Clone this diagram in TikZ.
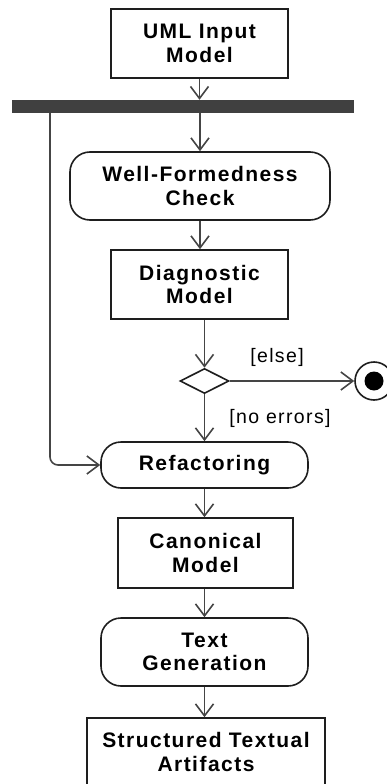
\documentclass[tikz,border=0pt]{standalone}
\usepackage{fontspec}
\setmainfont{Liberation Sans}[LetterSpace=7]
\usetikzlibrary{arrows.meta,shapes.geometric}
\definecolor{edgegray}{HTML}{454545}
\definecolor{bargray}{HTML}{404040}
\definecolor{boxline}{HTML}{1E1E1E}
\begin{document}
\begin{tikzpicture}[x=1pt,y=-1pt,
  every node/.style={inner sep=0pt, align=center, text=black},
  titletext/.style={font=\bfseries\fontsize{21}{23.5}\selectfont},
  guardtext/.style={font=\fontsize{19.5}{24}\selectfont},
  objbox/.style={titletext, draw=boxline, line width=1.6pt, rectangle},
  actbox/.style={titletext, draw=boxline, line width=1.6pt, rectangle, rounded corners=20pt},
  flow/.style={draw=edgegray, line width=1.6pt,
    -{Straight Barb[length=12pt,width=18pt,line width=1.6pt]}}
]
\useasboundingbox (0,0) rectangle (387,784);

% activity nodes and object nodes
\node[objbox, minimum width=177pt, minimum height=69pt] (uml) at (199.5,43.5) {UML Input\\Model};
\node[fill=bargray, minimum width=342pt, minimum height=13pt] (fork) at (183,106.5) {};
\node[actbox, minimum width=260pt, minimum height=68pt] (wf) at (200,186) {Well-Formedness\\Check};
\node[objbox, minimum width=177pt, minimum height=69pt] (diag) at (199.5,284.5) {Diagnostic\\Model};
\node[diamond, draw=boxline, line width=1.6pt, minimum width=49pt, minimum height=25pt] (dec) at (204.5,381) {};
\node[circle, draw=boxline, line width=1.6pt, minimum size=38pt] (final) at (374,381) {};
\node[circle, fill=black, minimum size=19pt] (finaldot) at (final.center) {};
\node[actbox, minimum width=207pt, minimum height=46pt] (refac) at (204.5,465) {Refactoring};
\node[objbox, minimum width=175pt, minimum height=70pt] (canon) at (205.5,553) {Canonical\\Model};
\node[actbox, minimum width=207pt, minimum height=68pt] (tgen) at (204.5,652) {Text\\Generation};
\node[objbox, minimum width=238pt, minimum height=68pt] (sta) at (206,752) {Structured Textual\\Artifacts};

% guard labels
\node[guardtext] (elselbl) at (277,357) {[else]};
\node[guardtext] (nolbl) at (280,418) {[no errors]};

% control flows
\coordinate (bend) at (50,465);
\draw[flow] (uml.south) -- (uml.south |- fork.north);
\draw[flow] (fork.south -| wf.north) -- (wf.north);
\draw[flow] (wf.south) -- (wf.south |- diag.north);
\draw[flow] (diag.south -| dec.north) -- (dec.north);
\draw[flow] (dec.east) -- (final.west);
\draw[flow] (dec.south) -- (dec.south |- refac.north);
\draw[flow, rounded corners=8pt] (fork.south -| bend) -- (bend) -- (refac.west);
\draw[flow] (refac.south) -- (refac.south |- canon.north);
\draw[flow] (canon.south -| tgen.north) -- (tgen.north);
\draw[flow] (tgen.south) -- (tgen.south |- sta.north);
\end{tikzpicture}
\end{document}
